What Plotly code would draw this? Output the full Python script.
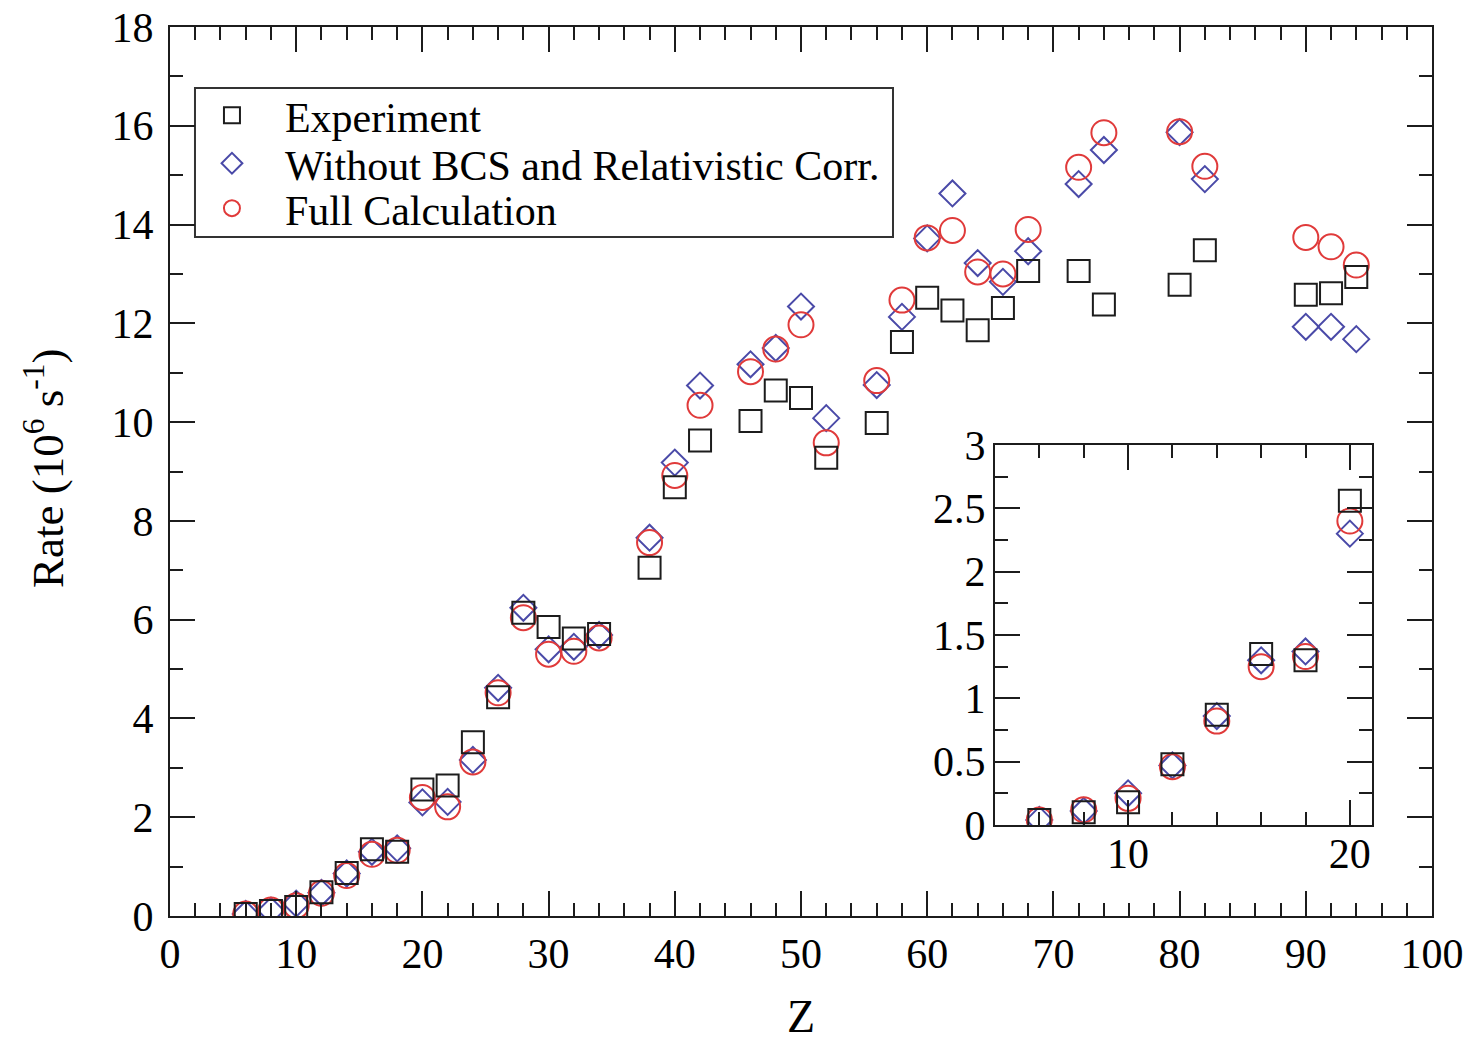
import plotly.graph_objects as go

# ---------------- data ----------------
Z = [6, 8, 10, 12, 14, 16, 18, 20, 22, 24, 26, 28, 30, 32, 34, 38, 40, 42,
     46, 48, 50, 52, 56, 58, 60, 62, 64, 66, 68, 72, 74, 80, 82, 90, 92, 94]
experiment = [0.04, 0.10, 0.18, 0.48, 0.87, 1.35, 1.30, 2.56, 2.64, 3.52, 4.43, 6.14, 5.85, 5.62, 5.71,
              7.05, 8.68, 9.63, 10.02, 10.64, 10.49, 9.28, 9.98, 11.62, 12.52, 12.26, 11.86, 12.31,
              13.06, 13.06, 12.38, 12.78, 13.48, 12.58, 12.61, 12.94]
without_bcs = [0.04, 0.11, 0.25, 0.47, 0.86, 1.30, 1.37, 2.30, 2.31, 3.16, 4.62, 6.24, 5.40, 5.45, 5.69,
               7.66, 9.18, 10.74, 11.17, 11.50, 12.34, 10.08, 10.75, 12.13, 13.72, 14.63, 13.22, 12.84,
               13.46, 14.82, 15.51, 15.87, 14.92, 11.93, 11.93, 11.68]
full_calc = [0.04, 0.12, 0.21, 0.46, 0.82, 1.25, 1.33, 2.40, 2.21, 3.12, 4.52, 6.04, 5.30, 5.36, 5.63,
             7.56, 8.92, 10.34, 11.02, 11.48, 11.97, 9.58, 10.84, 12.47, 13.73, 13.88, 13.04, 13.00,
             13.90, 15.16, 15.86, 15.88, 15.18, 13.74, 13.55, 13.18]

names = ["Experiment", "Without BCS and Relativistic Corr.", "Full Calculation"]
x_title = "Z"
y_title = "Rate (10<sup>6</sup> s<sup>-1</sup>)"
INSET_MAX_Z = 20

# ---------------- styles ----------------
FONT = "Liberation Serif"
BLACK = "#1c1c1c"
BLUE = "#4a4aa8"
RED = "#e03a3a"
series = [
    (without_bcs, names[1], "diamond-open", 20, BLUE, "legend2"),
    (full_calc, names[2], "circle-open", 25, RED, "legend3"),
    (experiment, names[0], "square-open", 22, BLACK, "legend"),
]

fig = go.Figure()
inset_idx = [i for i, z in enumerate(Z) if z <= INSET_MAX_Z]
for vals, name, sym, size, col, leg in series:
    fig.add_trace(go.Scatter(
        x=Z, y=vals, mode="markers", name=name, legend=leg,
        marker=dict(symbol=sym, size=size, color=col, line=dict(color=col, width=2)),
        xaxis="x", yaxis="y"))
    fig.add_trace(go.Scatter(
        x=[Z[i] for i in inset_idx], y=[vals[i] for i in inset_idx], mode="markers",
        name=name, showlegend=False,
        marker=dict(symbol=sym, size=size, color=col, line=dict(color=col, width=2)),
        xaxis="x2", yaxis="y2"))

tickfont = dict(family=FONT, size=42, color="black")
common = dict(showline=True, linecolor=BLACK, linewidth=2, mirror="ticks",
              ticks="inside", tickcolor=BLACK, tickwidth=2, ticklen=25,
              showgrid=False, zeroline=False, tickfont=tickfont, automargin=False)

fig.update_layout(
    width=1474, height=1045,
    margin=dict(l=170, r=42, t=27, b=129),
    paper_bgcolor="white", plot_bgcolor="white",
    font=dict(family=FONT, color="black"),
    xaxis=dict(range=[0, 100], dtick=10, tick0=0,
               minor=dict(dtick=2, ticks="inside", ticklen=13, tickwidth=2, tickcolor=BLACK),
               ticklabelstandoff=0,
               **common),
    yaxis=dict(range=[0, 18], dtick=2, tick0=0,
               minor=dict(dtick=1, ticks="inside", ticklen=13, tickwidth=2, tickcolor=BLACK),
               ticklabelstandoff=6,
               **common),
    xaxis2=dict(domain=[0.6537, 0.9525], anchor="y2", range=[4, 21], dtick=10, tick0=0,
                minor=dict(dtick=2, ticks="inside", ticklen=13, tickwidth=2, tickcolor=BLACK),
                ticklabelstandoff=-9, **common),
    yaxis2=dict(domain=[0.1024, 0.5298], anchor="x2", range=[0, 3], dtick=0.5, tick0=0,
                minor=dict(dtick=0.25, ticks="inside", ticklen=13, tickwidth=2, tickcolor=BLACK),
                ticklabelstandoff=-1, **common),
    showlegend=True,
)

# axis titles (placed as annotations for exact positioning)
fig.add_annotation(text=x_title, xref="paper", yref="paper", x=0.5, y=-0.1135,
                   xanchor="center", yanchor="middle", showarrow=False,
                   font=dict(family=FONT, size=46, color="black"))
fig.add_annotation(text=y_title, xref="paper", yref="paper", x=-0.099, y=0.503,
                   xanchor="center", yanchor="middle", showarrow=False, textangle=-90,
                   font=dict(family=FONT, size=45, color="black"))

leg_common = dict(xanchor="left", yanchor="middle", bgcolor="rgba(0,0,0,0)", borderwidth=0,
                  itemwidth=96,
                  font=dict(family=FONT, size=42, color="black"), itemclick=False)
fig.update_layout(
    legend=dict(x=0.0071, y=0.9005, **leg_common),
    legend2=dict(x=0.0071, y=0.8465, **leg_common),
    legend3=dict(x=0.0071, y=0.7960, **leg_common),
)

fig.add_shape(type="rect", xref="paper", yref="paper", x0=0.0198, x1=0.5729, y0=0.7638, y1=0.9314,
              line=dict(color="#333333", width=2), fillcolor="rgba(0,0,0,0)", layer="below")

fig.write_html("out.html")
